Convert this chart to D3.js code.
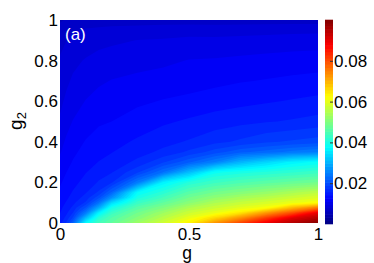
<!DOCTYPE html>
<html>
<head>
<meta charset="utf-8">
<script src="https://cdn.jsdelivr.net/npm/d3@7"></script>
<style>
  body { margin: 0; background: #fff; }
  svg { display: block; font-family: "Liberation Sans", Arial, sans-serif; }
</style>
</head>
<body>
<div id="chart"></div>
<script>
// grid axes (finer near the bottom-left where the map changes fast)
const gValues = [0, 0.025, 0.05, 0.1, 0.15, 0.2, 0.3, 0.4, 0.5, 0.6, 0.7, 0.8, 0.9, 1];
const g2Values = [0, 0.025, 0.05, 0.075, 0.1, 0.125, 0.15, 0.2, 0.25, 0.3, 0.35,
                  0.4, 0.5, 0.6, 0.7, 0.8, 0.9, 0.95, 1];

// values, one column per g (from g2=0 up to g2=1)
const zColumns = [
  [0.015, 0.0145, 0.014, 0.0137, 0.0134, 0.0131, 0.0128, 0.0123, 0.0118, 0.0113, 0.0108, 0.0104, 0.0096, 0.009, 0.0085, 0.008, 0.0073, 0.0069, 0.006],
  [0.0175, 0.0162, 0.0153, 0.0147, 0.0142, 0.0138, 0.0135, 0.013, 0.0125, 0.012, 0.0116, 0.0112, 0.0104, 0.0097, 0.0091, 0.0085, 0.0078, 0.0073, 0.0064],
  [0.022, 0.019, 0.0172, 0.016, 0.0152, 0.0146, 0.0142, 0.0136, 0.0131, 0.0126, 0.0122, 0.0118, 0.011, 0.0103, 0.0096, 0.009, 0.0082, 0.0077, 0.0066],
  [0.0375, 0.031, 0.0245, 0.0205, 0.0175, 0.0163, 0.0155, 0.0146, 0.014, 0.0135, 0.013, 0.0126, 0.0118, 0.011, 0.0102, 0.0095, 0.0086, 0.008, 0.0068],
  [0.044, 0.0415, 0.0365, 0.029, 0.0235, 0.0198, 0.0175, 0.0158, 0.0148, 0.0141, 0.0136, 0.0131, 0.0123, 0.0115, 0.0107, 0.0099, 0.0089, 0.0082, 0.0069],
  [0.047, 0.0455, 0.043, 0.0395, 0.034, 0.0265, 0.0222, 0.017, 0.0155, 0.0146, 0.014, 0.0135, 0.0125, 0.0118, 0.011, 0.0101, 0.0091, 0.0083, 0.007],
  [0.053, 0.0505, 0.0485, 0.046, 0.043, 0.040, 0.0375, 0.0245, 0.0185, 0.016, 0.015, 0.0143, 0.0132, 0.0122, 0.0113, 0.0104, 0.0094, 0.0085, 0.007],
  [0.058, 0.0555, 0.053, 0.050, 0.047, 0.044, 0.0415, 0.0365, 0.0235, 0.0185, 0.016, 0.0151, 0.0138, 0.0126, 0.0116, 0.0106, 0.0095, 0.0087, 0.007],
  [0.0635, 0.0605, 0.0575, 0.0545, 0.051, 0.0485, 0.046, 0.041, 0.031, 0.0215, 0.0175, 0.0158, 0.0143, 0.0129, 0.0118, 0.011, 0.0097, 0.0088, 0.007],
  [0.073, 0.0665, 0.0605, 0.0573, 0.0545, 0.0515, 0.0487, 0.0435, 0.0385, 0.025, 0.0195, 0.0167, 0.0148, 0.0133, 0.0121, 0.0111, 0.0097, 0.0087, 0.007],
  [0.081, 0.0735, 0.065, 0.0598, 0.0568, 0.0538, 0.0505, 0.045, 0.040, 0.0302, 0.0215, 0.0175, 0.0152, 0.0136, 0.0124, 0.0113, 0.0098, 0.0088, 0.007],
  [0.089, 0.082, 0.0725, 0.062, 0.0585, 0.0555, 0.0522, 0.0463, 0.041, 0.0335, 0.0225, 0.0185, 0.0155, 0.0139, 0.0126, 0.0115, 0.0099, 0.0089, 0.007],
  [0.095, 0.0905, 0.080, 0.0695, 0.0605, 0.0575, 0.0543, 0.0475, 0.042, 0.0365, 0.024, 0.019, 0.0158, 0.0142, 0.0128, 0.0117, 0.010, 0.009, 0.007],
  [0.0995, 0.095, 0.0895, 0.076, 0.0623, 0.0592, 0.0562, 0.0487, 0.0432, 0.038, 0.025, 0.0195, 0.0162, 0.0145, 0.013, 0.0118, 0.0101, 0.009, 0.007]
];

const xTicks = [0, 0.5, 1];
const yTicks = [0, 0.2, 0.4, 0.6, 0.8, 1];
const cbTicks = [0.02, 0.04, 0.06, 0.08];
const cbRange = [0, 0.1];

const width = 374, height = 263;
const plot = { left: 60, right: 318, top: 20, bottom: 223 };
const bar = { left: 325, right: 333, top: 20, bottom: 224 };

const svg = d3.select("#chart").append("svg")
  .attr("width", width)
  .attr("height", height);

const x = d3.scaleLinear().domain([0, 1]).range([plot.left, plot.right]);
const y = d3.scaleLinear().domain([0, 1]).range([plot.bottom, plot.top]);

// MATLAB jet colormap
const jet = d3.scaleLinear()
  .domain([0, 0.0125, 0.0375, 0.0625, 0.0875, 0.1])
  .range(["#000080", "#0000ff", "#00ffff", "#ffff00", "#ff0000", "#800000"])
  .clamp(true);

// flatten the grid for d3.contours (row = g2, column = g)
const nx = gValues.length, ny = g2Values.length;
const values = [];
for (let j = 0; j < ny; j++) {
  for (let i = 0; i < nx; i++) values.push(zColumns[i][j]);
}

const step = (cbRange[1] - cbRange[0]) / 64;
const levels = d3.range(64).map(k => cbRange[0] + k * step);

const contours = d3.contours().size([nx, ny]).thresholds(levels)(values);

// grid coords -> pixels (sample i sits at i + 0.5), polylinear for the uneven grid
const gx = d3.scaleLinear().domain(gValues.map((d, i) => i + 0.5)).range(gValues.map(x));
const gy = d3.scaleLinear().domain(g2Values.map((d, j) => j + 0.5)).range(g2Values.map(y));
const path = d3.geoPath(d3.geoTransform({
  point: function (px, py) { this.stream.point(gx(px), gy(py)); }
}));

svg.append("clipPath").attr("id", "plotClip")
  .append("rect")
  .attr("x", plot.left).attr("y", plot.top)
  .attr("width", plot.right - plot.left)
  .attr("height", plot.bottom - plot.top);

svg.append("g")
  .attr("clip-path", "url(#plotClip)")
  .selectAll("path")
  .data(contours)
  .enter()
  .append("path")
  .attr("d", path)
  .attr("fill", d => jet(d.value + step / 2));

// axes (no visible tick marks, labels only)
const xAxis = svg.append("g")
  .attr("transform", `translate(0,${plot.bottom})`)
  .call(d3.axisBottom(x).tickValues(xTicks).tickFormat(d3.format("")).tickSize(0).tickPadding(4.5));
const yAxis = svg.append("g")
  .attr("transform", `translate(${plot.left},0)`)
  .call(d3.axisLeft(y).tickValues(yTicks).tickFormat(d3.format("")).tickSize(0).tickPadding(2));

[xAxis, yAxis].forEach(a => {
  a.select(".domain").remove();
  a.selectAll("text").style("font-size", "17px").attr("fill", "#000")
    .style("font-family", "'Liberation Sans', Arial, sans-serif");
});

// colorbar
const cb = d3.scaleLinear().domain(cbRange).range([bar.bottom, bar.top]);
svg.append("g")
  .selectAll("rect")
  .data(levels)
  .enter()
  .append("rect")
  .attr("x", bar.left)
  .attr("width", bar.right - bar.left)
  .attr("y", d => cb(d + step) - 0.3)
  .attr("height", d => cb(d) - cb(d + step) + 0.6)
  .attr("fill", d => jet(d + step / 2));

const cbAxis = svg.append("g")
  .attr("transform", `translate(${bar.right},0)`)
  .call(d3.axisRight(cb).tickValues(cbTicks).tickFormat(d3.format("")).tickSizeInner(-3).tickSizeOuter(0).tickPadding(1));
cbAxis.select(".domain").remove();
cbAxis.selectAll("line").attr("stroke", "#333");
cbAxis.selectAll("text").style("font-size", "17px").attr("fill", "#000")
  .style("font-family", "'Liberation Sans', Arial, sans-serif");

// axis titles
svg.append("text")
  .attr("x", x(0.5) - 2)
  .attr("y", 259)
  .attr("text-anchor", "middle")
  .style("font-size", "17.5px")
  .text("g");

const yTitle = svg.append("text")
  .attr("transform", "translate(22,121) rotate(-90)")
  .attr("text-anchor", "middle")
  .style("font-size", "19px");
yTitle.append("tspan").text("g");
yTitle.append("tspan").attr("dy", "0.3em").style("font-size", "13px").text("2");

// panel label
svg.append("text")
  .attr("x", 65)
  .attr("y", 40)
  .attr("fill", "#fff")
  .style("font-size", "17px")
  .text("(a)");
</script>
</body>
</html>
